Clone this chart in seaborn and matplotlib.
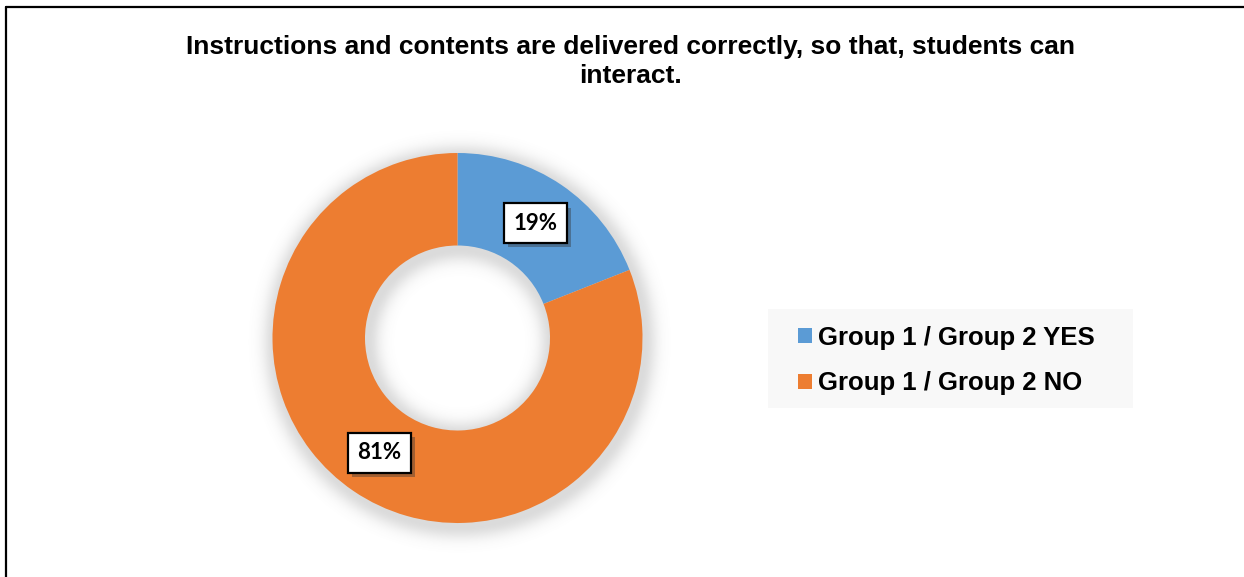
import numpy as np
import matplotlib
matplotlib.use("Agg")
import matplotlib.pyplot as plt
import seaborn as sns
from matplotlib.patches import Patch, Rectangle
from matplotlib.lines import Line2D
from matplotlib import patheffects as pe

sns.set_theme(style="white")
plt.rcParams["font.family"] = ["Liberation Sans", "DejaVu Sans"]
plt.rcParams["text.color"] = "black"

# Survey answers
categories = ["Group 1 / Group 2 YES", "Group 1 / Group 2 NO"]
shares = [19, 81]
value_labels = ["19%", "81%"]
title_text = "Instructions and contents are delivered correctly, so that, students can\ninteract."

colors = sns.color_palette(["#5B9BD5", "#ED7D31"])

W, H = 1244, 577
fig = plt.figure(figsize=(W / 100, H / 100), dpi=100)
fig.patch.set_facecolor("white")

# chart frame (top and left edges)
fig.add_artist(Line2D([6 / W, 1], [1 - 7 / H, 1 - 7 / H], color="black", lw=1.6,
                      transform=fig.transFigure))
fig.add_artist(Line2D([6 / W, 6 / W], [0, 1 - 7 / H], color="black", lw=1.6,
                      transform=fig.transFigure))

fig.text(630 / W, 1 - 61.5 / H, title_text, ha="center", va="center", color="black",
         fontsize=19, fontweight="bold", linespacing=1.25)

# donut axes
cx, cy, R = 457.5, 338, 185
span = 1.2
side = 2 * R * span
ax = fig.add_axes([(cx - side / 2) / W, (H - cy - side / 2) / H, side / W, side / H])

# soft shadow beneath the ring
n = 400
g = np.linspace(-span, span, n)
X, Y = np.meshgrid(g, -g)
rr = np.hypot(X - 0.01, Y + 0.02)
d = np.where(rr > 1, rr - 1, np.where(rr < 0.5, 0.5 - rr, 0))
alpha = np.exp(-(d / 0.07) ** 2) * 0.28
shadow = np.zeros((n, n, 4))
shadow[..., :3] = 0.5
shadow[..., 3] = alpha
ax.imshow(shadow, extent=(-span, span, -span, span), zorder=0)

wedges, _ = ax.pie(shares, colors=colors, startangle=90, counterclock=False,
                   radius=1, wedgeprops=dict(width=0.5, edgecolor="none"))
for w in wedges:
    w.set_zorder(2)

# value labels in boxed callouts with a drop shadow
for w, lab in zip(wedges, value_labels):
    mid = np.deg2rad((w.theta1 + w.theta2) / 2)
    x, y = 0.75 * np.cos(mid), 0.75 * np.sin(mid)
    t = ax.text(x, y, lab, ha="center", va="center", fontsize=16, fontweight="bold",
                family=["Lato", "DejaVu Sans"], color="black",
                bbox=dict(boxstyle="square,pad=0.42", fc="white", ec="black", lw=1.6),
                zorder=4)
    t.get_bbox_patch().set_path_effects([
        pe.SimplePatchShadow(offset=(3, -3), shadow_rgbFace=(0.2, 0.2, 0.2), alpha=0.4),
        pe.Normal(),
    ])

ax.set_xlim(-span, span)
ax.set_ylim(-span, span)
ax.set_aspect("equal")
ax.axis("off")

# legend panel
fig.add_artist(Rectangle((768 / W, 1 - 408 / H), (1133 - 768) / W, (408 - 309) / H,
                         transform=fig.transFigure, fc="#F8F8F8", ec="none", zorder=0))
handles = [Patch(facecolor=c, edgecolor="none") for c in colors]
leg = fig.legend(handles, categories, loc="center left",
                 bbox_to_anchor=(798 / W, 1 - 360.5 / H), frameon=False,
                 prop=dict(family="Liberation Sans", weight="bold", size=18.5),
                 handlelength=0.54, handleheight=0.54, handletextpad=0.24,
                 labelspacing=0.85, borderpad=0, borderaxespad=0)
for t in leg.get_texts():
    t.set_color("black")

fig.savefig("out.png", dpi=100, facecolor="white")
